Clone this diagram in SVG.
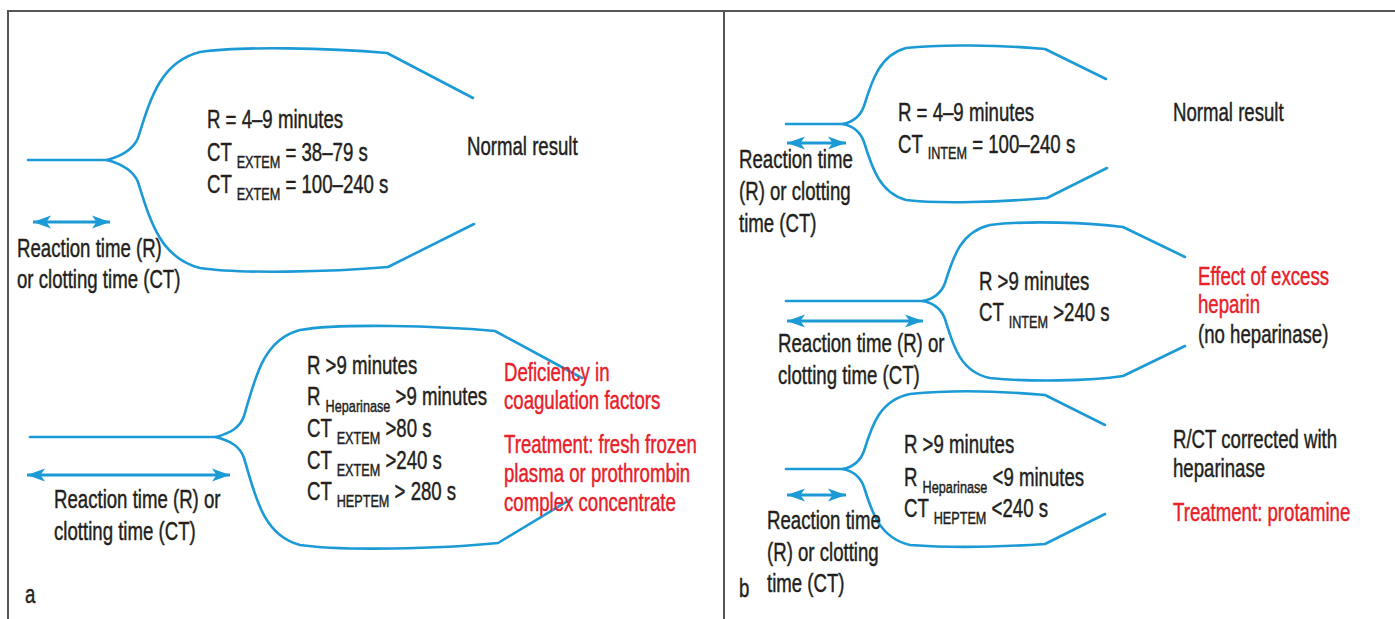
<svg xmlns="http://www.w3.org/2000/svg" width="1395" height="619" viewBox="0 0 1395 619">
<style>
.frame{fill:none;stroke:#555;stroke-width:2}
.curve{fill:none;stroke:#1b9ad6;stroke-width:2.6;stroke-linecap:round;stroke-linejoin:round}
.arr{fill:none;stroke:#1b9ad6;stroke-width:2.8}
.t{font-family:"Liberation Sans",Arial,sans-serif;font-size:25px;fill:#231f20;stroke:#231f20;stroke-width:0.45}
.r{fill:#e8202a;stroke:#e8202a}
.s{font-size:17px}
</style>
<defs>
<marker id="ah" markerUnits="userSpaceOnUse" markerWidth="19" markerHeight="15" refX="18" refY="7" orient="auto-start-reverse">
<path d="M0,0.5 L18,7 L0,13.5 L4.5,7 z" fill="#1b9ad6"/>
</marker>
</defs>
<rect width="1395" height="619" fill="#fff"/>
<g id="frame">
<path class="frame" d="M8,619 L8,11 L1395,11"/>
<path class="frame" d="M724,11 L724,619"/>
</g>

<g id="a-normal">
<path class="curve" d="M28,160 L107,160"/>
<path class="curve" d="M107,160 C122,156 133,150 138,138 C150,100 160,62 200,52 C240,46 330,48 387,53 L473,98"/>
<path class="curve" d="M107,160 C122,164 133,170 138,182 C150,220 160,258 200,268 C240,274 330,272 388,267 L474,224"/>
<text class="t" transform="translate(207,128) scale(0.745,1)">R = 4–9 minutes</text>
<text class="t" transform="translate(207,161) scale(0.745,1)">CT <tspan class="s" dy="7">EXTEM</tspan><tspan dy="-7"> = 38–79 s</tspan></text>
<text class="t" transform="translate(207,193) scale(0.745,1)">CT <tspan class="s" dy="7">EXTEM</tspan><tspan dy="-7"> = 100–240 s</tspan></text>
<text class="t" transform="translate(467,155) scale(0.745,1)">Normal result</text>
<text class="t" transform="translate(17,257) scale(0.745,1)">Reaction time (R)</text>
<text class="t" transform="translate(17,288) scale(0.745,1)">or clotting time (CT)</text>
</g>

<g id="a-deficiency">
<path class="curve" d="M30,437 L216,437"/>
<path class="curve" d="M216,437 C230,433 240,428 244,416 C255,380 262,340 300,330 C340,323 440,326 495,331 L582,378"/>
<path class="curve" d="M216,437 C230,441 240,446 244,458 C255,494 262,535 300,545 C340,551 440,549 498,543 L571,499"/>
<text class="t" transform="translate(307,374) scale(0.745,1)">R &gt;9 minutes</text>
<text class="t" transform="translate(307,405) scale(0.745,1)">R <tspan class="s" dy="7">Heparinase</tspan><tspan dy="-7"> &gt;9 minutes</tspan></text>
<text class="t" transform="translate(307,437) scale(0.745,1)">CT <tspan class="s" dy="7">EXTEM</tspan><tspan dy="-7"> &gt;80 s</tspan></text>
<text class="t" transform="translate(307,469) scale(0.745,1)">CT <tspan class="s" dy="7">EXTEM</tspan><tspan dy="-7"> &gt;240 s</tspan></text>
<text class="t" transform="translate(307,500) scale(0.745,1)">CT <tspan class="s" dy="7">HEPTEM</tspan><tspan dy="-7"> &gt; 280 s</tspan></text>
<text class="t r" transform="translate(504,381) scale(0.745,1)">Deficiency in</text>
<text class="t r" transform="translate(504,409) scale(0.745,1)">coagulation factors</text>
<text class="t r" transform="translate(504,453) scale(0.745,1)">Treatment: fresh frozen</text>
<text class="t r" transform="translate(504,482) scale(0.745,1)">plasma or prothrombin</text>
<text class="t r" transform="translate(504,511) scale(0.745,1)">complex concentrate</text>
<text class="t" transform="translate(54,508) scale(0.745,1)">Reaction time (R) or</text>
<text class="t" transform="translate(54,540) scale(0.745,1)">clotting time (CT)</text>
<text class="t" transform="translate(25,603) scale(0.745,1)">a</text>
</g>

<g id="b-normal">
<path class="curve" d="M786,124 L843,124"/>
<path class="curve" d="M843,124 C853,122 860,117 864,106 C872,80 880,55 906,48 C940,44 1000,45 1045,49 L1106,79"/>
<path class="curve" d="M843,124 C853,126 860,131 864,142 C872,168 880,193 906,200 C940,204 1000,202 1047,198 L1107,168"/>
<text class="t" transform="translate(898,121) scale(0.745,1)">R = 4–9 minutes</text>
<text class="t" transform="translate(898,153) scale(0.745,1)">CT <tspan class="s" dy="6">INTEM</tspan><tspan dy="-6"> = 100–240 s</tspan></text>
<text class="t" transform="translate(1173,121) scale(0.745,1)">Normal result</text>
<text class="t" transform="translate(739,168) scale(0.745,1)">Reaction time</text>
<text class="t" transform="translate(739,200) scale(0.745,1)">(R) or clotting</text>
<text class="t" transform="translate(739,232) scale(0.745,1)">time (CT)</text>
</g>

<g id="b-heparin">
<path class="curve" d="M786,301 L923,301"/>
<path class="curve" d="M923,301 C933,299 941,294 945,283 C953,258 960,232 990,225 C1030,220 1090,223 1123,227 L1185,257"/>
<path class="curve" d="M923,301 C933,303 941,308 945,319 C953,345 960,372 990,378 C1030,382 1090,381 1123,376 L1185,346"/>
<text class="t" transform="translate(979,290) scale(0.745,1)">R &gt;9 minutes</text>
<text class="t" transform="translate(979,321) scale(0.745,1)">CT <tspan class="s" dy="7">INTEM</tspan><tspan dy="-7"> &gt;240 s</tspan></text>
<text class="t r" transform="translate(1198,285) scale(0.745,1)">Effect of excess</text>
<text class="t r" transform="translate(1198,313) scale(0.745,1)">heparin</text>
<text class="t" transform="translate(1198,343) scale(0.745,1)">(no heparinase)</text>
<text class="t" transform="translate(778,352) scale(0.745,1)">Reaction time (R) or</text>
<text class="t" transform="translate(778,384) scale(0.745,1)">clotting time (CT)</text>
</g>

<g id="b-corrected">
<path class="curve" d="M786,469 L843,469"/>
<path class="curve" d="M843,469 C853,467 860,462 864,451 C872,425 880,400 910,394 C950,390 1000,391 1045,395 L1105,425"/>
<path class="curve" d="M843,469 C853,471 860,476 864,487 C872,513 880,538 910,545 C950,548 1000,547 1045,544 L1105,514"/>
<text class="t" transform="translate(904,453) scale(0.745,1)">R &gt;9 minutes</text>
<text class="t" transform="translate(904,486) scale(0.745,1)">R <tspan class="s" dy="7">Heparinase</tspan><tspan dy="-7"> &lt;9 minutes</tspan></text>
<text class="t" transform="translate(904,517) scale(0.745,1)">CT <tspan class="s" dy="7">HEPTEM</tspan><tspan dy="-7"> &lt;240 s</tspan></text>
<text class="t" transform="translate(1173,448) scale(0.745,1)">R/CT corrected with</text>
<text class="t" transform="translate(1173,477) scale(0.745,1)">heparinase</text>
<text class="t r" transform="translate(1173,521) scale(0.745,1)">Treatment: protamine</text>
<text class="t" transform="translate(767,529) scale(0.745,1)">Reaction time</text>
<text class="t" transform="translate(767,561) scale(0.745,1)">(R) or clotting</text>
<text class="t" transform="translate(767,592) scale(0.745,1)">time (CT)</text>
<text class="t" transform="translate(739,597) scale(0.745,1)">b</text>
</g>

<g id="connectors">
<line class="arr" x1="33" y1="222" x2="110" y2="222" marker-start="url(#ah)" marker-end="url(#ah)"/>
<line class="arr" x1="27" y1="475" x2="230" y2="475" marker-start="url(#ah)" marker-end="url(#ah)"/>
<line class="arr" x1="787" y1="143" x2="846" y2="143" marker-start="url(#ah)" marker-end="url(#ah)"/>
<line class="arr" x1="787" y1="321" x2="923" y2="321" marker-start="url(#ah)" marker-end="url(#ah)"/>
<line class="arr" x1="787" y1="495" x2="846" y2="495" marker-start="url(#ah)" marker-end="url(#ah)"/>
</g>
</svg>
